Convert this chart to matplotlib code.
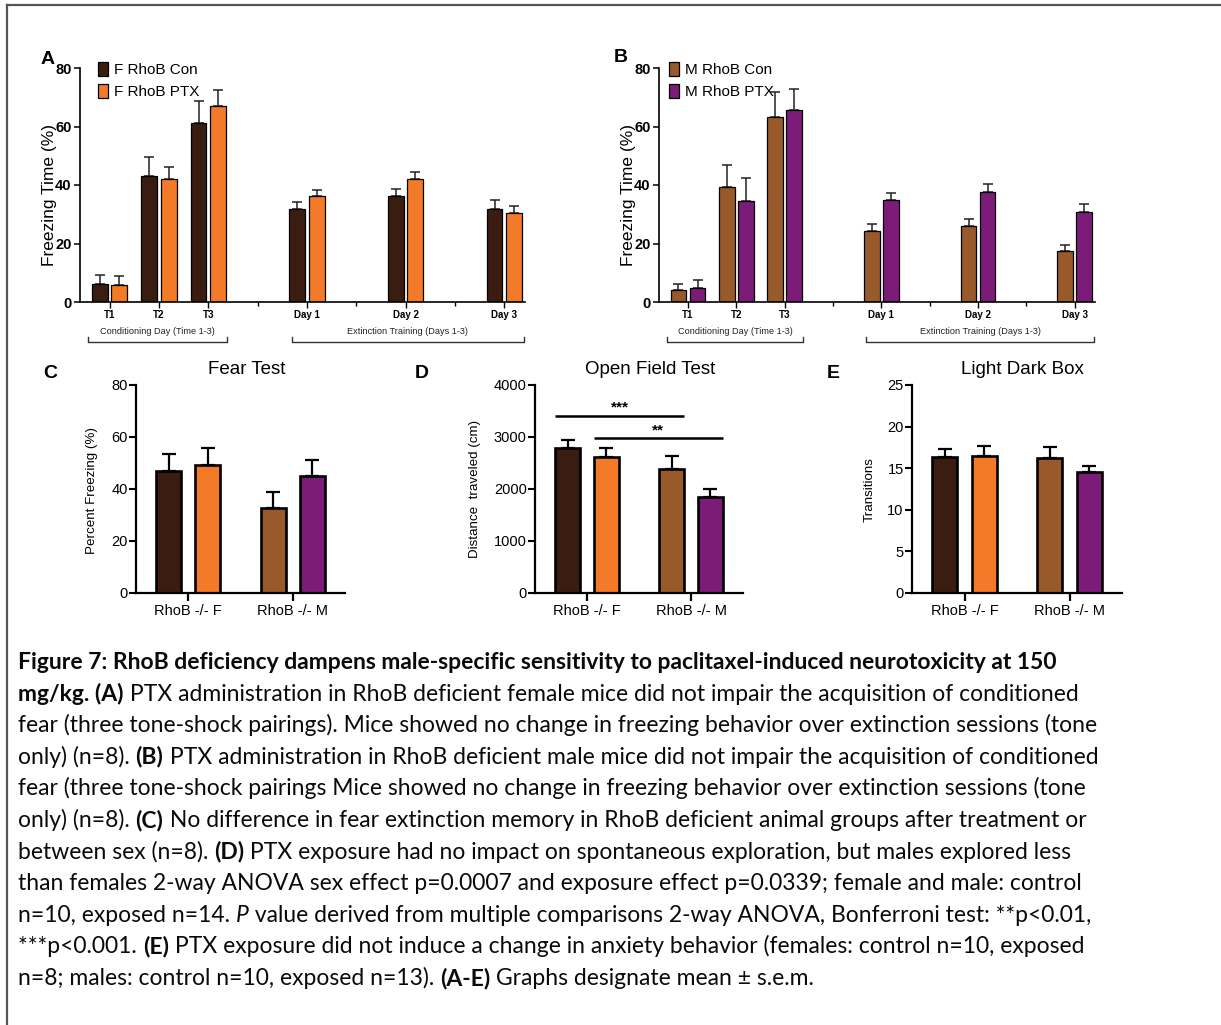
import matplotlib
matplotlib.use('Agg')
import matplotlib.pyplot as plt
import numpy as np
from matplotlib.lines import Line2D
from matplotlib.transforms import blended_transform_factory

# ---------------- data ----------------
a_categories = ['T1', 'T2', 'T3', 'Day 1', 'Day 2', 'Day 3']
f_con = [6.2, 43.2, 61.2, 31.9, 36.4, 31.9]
f_con_err = [3.1, 6.3, 7.5, 2.3, 2.3, 3.0]
f_ptx = [5.9, 42.2, 66.9, 36.4, 42.2, 30.5]
f_ptx_err = [2.9, 4.1, 5.7, 2.0, 2.2, 2.2]
m_con = [4.2, 39.4, 63.4, 24.4, 25.9, 17.5]
m_con_err = [2.0, 7.3, 8.3, 2.3, 2.5, 1.9]
m_ptx = [4.8, 34.5, 65.8, 34.9, 37.5, 30.9]
m_ptx_err = [2.8, 8.0, 7.1, 2.3, 2.8, 2.6]
a_brackets = ['Conditioning Day (Time 1-3)', 'Extinction Training (Days 1-3)']

groups = ['RhoB -/- F', 'RhoB -/- M']
fear_test = [46.9, 49.3, 32.6, 45.1]
fear_test_err = [6.6, 6.6, 6.3, 6.1]
open_field = [2797, 2624, 2387, 1843]
open_field_err = [147, 173, 256, 154]
light_dark = [16.4, 16.5, 16.2, 14.6]
light_dark_err = [0.9, 1.2, 1.3, 0.7]
# significance comparisons in open field: (bar i, bar j, height, label)
of_sig = [(0, 2, 3411, '***'), (1, 3, 2976, '**')]

# ---------------- style ----------------
C_FCON = '#3a1d10'
C_FPTX = '#f27a28'
C_MCON = '#98592b'
C_MPTX = '#7c1b78'
CHART_FONT = ['Liberation Sans', 'DejaVu Sans']
plt.rcParams['font.family'] = CHART_FONT

W, H = 1221, 1025
fig = plt.figure(figsize=(W / 100, H / 100), dpi=100)


def rect(x0, y0, x1, y1):
    return [x0 / W, 1 - y1 / H, (x1 - x0) / W, (y1 - y0) / H]


def ftext(x, y, s, **kw):
    return fig.text(x / W, 1 - y / H, s, **kw)


# positions of categories in panel A/B (layout)
a_pos = np.array([0, 1, 2, 4, 6, 8], float)
a_minor = [3, 5, 7]
bracket_spans = [(-0.43, 2.37), (3.69, 8.39)]


def timecourse(r, con, con_err, ptx, ptx_err, colors, labels, letter, letter_xy, ylabel_xy, leg_x):
    ax = fig.add_axes(r)
    off, w = 0.197, 0.32
    handles = []
    for vals, errs, c, lab, sgn in [(con, con_err, colors[0], labels[0], -1),
                                    (ptx, ptx_err, colors[1], labels[1], 1)]:
        xs = a_pos + sgn * off
        b = ax.bar(xs, vals, w, color=c, edgecolor='black', linewidth=0.9, label=lab, zorder=2)
        ax.errorbar(xs, vals, yerr=[np.zeros(len(vals)), errs], fmt='none', ecolor='#222222',
                    elinewidth=1.1, capsize=3.4, capthick=1.1, zorder=1)
        handles.append(b)
    ax.set_xlim(-0.6, 8.42)
    ax.set_ylim(0, 80)
    ax.set_yticks([0, 20, 40, 60, 80])
    for lab in ax.get_yticklabels():
        lab.set_fontweight('bold')
        lab.set_fontsize(10.5)
    ax.set_xticks(a_pos)
    ax.set_xticklabels(a_categories, fontsize=7, fontweight='bold')
    ax.set_xticks(a_minor, minor=True)
    ax.tick_params(axis='x', which='major', length=4, width=1.0, pad=2)
    ax.tick_params(axis='x', which='minor', length=3, width=1.0)
    ax.tick_params(axis='y', length=4, width=1.1, pad=2)
    for s in ['top', 'right']:
        ax.spines[s].set_visible(False)
    for s in ['left', 'bottom']:
        ax.spines[s].set_linewidth(1.2)
    ax.legend(handles=handles, loc='upper left', bbox_to_anchor=(leg_x, 1.025), frameon=False,
              fontsize=11, handlelength=0.65, handleheight=1.05, handletextpad=0.4,
              labelspacing=0.42, borderaxespad=0, borderpad=0)
    tr = blended_transform_factory(ax.transData, ax.transAxes)
    for (x0, x1), txt in zip(bracket_spans, a_brackets):
        ax.add_line(Line2D([x0, x0, x1, x1], [-0.150, -0.170, -0.170, -0.150], transform=tr,
                           color='#333333', lw=1.0, clip_on=False))
        ax.text((x0 + x1) / 2, -0.128, txt, transform=tr, ha='center', va='center',
                fontsize=6.6, color='#222222')
    ftext(*letter_xy, letter, fontsize=14, fontweight='bold', ha='center', va='center')
    ftext(*ylabel_xy, 'Freezing Time (%)', fontsize=12.5, rotation=90, ha='center', va='center')
    return ax


timecourse(rect(80, 68, 525, 302), f_con, f_con_err, f_ptx, f_ptx_err, [C_FCON, C_FPTX],
           ['F RhoB Con', 'F RhoB PTX'], 'A', (48, 59), (50, 195), 0.04)
timecourse(rect(659, 68, 1095, 302), m_con, m_con_err, m_ptx, m_ptx_err, [C_MCON, C_MPTX],
           ['M RhoB Con', 'M RhoB PTX'], 'B', (621, 58), (628, 195), 0.022)

bar_off, bar_w = 0.187, 0.238
gx = np.arange(len(groups))
bar_x = np.array([gx[0] - bar_off, gx[0] + bar_off, gx[1] - bar_off, gx[1] + bar_off])
colors4 = [C_FCON, C_FPTX, C_MCON, C_MPTX]


def grouped(r, vals, errs, ymax, yticks, ylabel, title, letter, letter_xy, ylabel_xy, title_xy,
            sig=None):
    ax = fig.add_axes(r)
    ax.bar(bar_x, vals, bar_w, color=colors4, edgecolor='black', linewidth=1.9, zorder=2)
    ax.errorbar(bar_x, vals, yerr=[np.zeros(len(vals)), errs], fmt='none', ecolor='black',
                elinewidth=1.6, capsize=5, capthick=1.6, zorder=1)
    ax.set_xlim(-0.5, 1.5)
    ax.set_ylim(0, ymax)
    ax.set_yticks(yticks)
    ax.set_xticks(gx)
    ax.set_xticklabels(groups, fontsize=10.5)
    ax.tick_params(axis='x', length=6, width=1.6, pad=2)
    ax.tick_params(axis='y', length=5, width=1.5, labelsize=10.5, pad=1)
    for s in ['top', 'right']:
        ax.spines[s].set_visible(False)
    for s in ['left', 'bottom']:
        ax.spines[s].set_linewidth(1.6)
    if sig:
        for i, j, y, lab in sig:
            x0 = bar_x[i] - bar_w / 2
            x1 = bar_x[j] + bar_w / 2
            ax.plot([x0, x1], [y, y], color='black', lw=1.8, clip_on=False, solid_capstyle='butt')
            ax.annotate(lab, ((x0 + x1) / 2, y), xytext=(0, 0.5), textcoords='offset points',
                        ha='center', va='bottom', fontsize=11, fontweight='bold')
    ftext(*title_xy, title, fontsize=13.5, ha='center', va='center')
    ftext(*letter_xy, letter, fontsize=14, fontweight='bold', ha='center', va='center')
    ftext(*ylabel_xy, ylabel, fontsize=9.6, rotation=90, ha='center', va='center')
    return ax


grouped(rect(136, 385, 345, 593), fear_test, fear_test_err, 80, [0, 20, 40, 60, 80],
        'Percent Freezing (%)', 'Fear Test', 'C', (50, 373), (92, 490), (247, 370))
grouped(rect(535, 385, 743, 593), open_field, open_field_err, 4000, [0, 1000, 2000, 3000, 4000],
        'Distance  traveled (cm)', 'Open Field Test', 'D', (422, 373), (475, 489), (650, 370),
        sig=of_sig)
grouped(rect(912, 385, 1122, 593), light_dark, light_dark_err, 25, [0, 5, 10, 15, 20, 25],
        'Transitions', 'Light Dark Box', 'E', (833, 373), (870, 490), (1022, 370))

# ---------------- caption ----------------
B, R, I = 'bold', 'normal', 'italic'
caption = [
    [("Figure 7: RhoB deficiency dampens male-specific sensitivity to paclitaxel-induced neurotoxicity at 150", B)],
    [("mg/kg. (A)", B), (" PTX administration in RhoB deficient female mice did not impair the acquisition of conditioned", R)],
    [("fear (three tone-shock pairings). Mice showed no change in freezing behavior over extinction sessions (tone", R)],
    [("only) (n=8). ", R), ("(B)", B), (" PTX administration in RhoB deficient male mice did not impair the acquisition of conditioned", R)],
    [("fear (three tone-shock pairings Mice showed no change in freezing behavior over extinction sessions (tone", R)],
    [("only) (n=8). ", R), ("(C)", B), (" No difference in fear extinction memory in RhoB deficient animal groups after treatment or", R)],
    [("between sex (n=8). ", R), ("(D)", B), (" PTX exposure had no impact on spontaneous exploration, but males explored less", R)],
    [("than females 2-way ANOVA sex effect p=0.0007 and exposure effect p=0.0339; female and male: control", R)],
    [("n=10, exposed n=14. ", R), ("P", I), (" value derived from multiple comparisons 2-way ANOVA, Bonferroni test: **p<0.01,", R)],
    [("***p<0.001. ", R), ("(E)", B), (" PTX exposure did not induce a change in anxiety behavior (females: control n=10, exposed", R)],
    [("n=8; males: control n=10, exposed n=13). ", R), ("(A-E)", B), (" Graphs designate mean \u00b1 s.e.m.", R)],
]
CAP_FONT = ['Lato', 'DejaVu Sans']
renderer = fig.canvas.get_renderer()

# fit font size so the third line spans the same width as in the reference
probe = ftext(0, 0, caption[2][0][0], fontsize=10, family=CAP_FONT)
pw = probe.get_window_extent(renderer).width
probe.remove()
cap_fs = 10 * (1099 - 18) / pw

x_start, y_first, dy = 18, 669, 31.6
for i, segs in enumerate(caption):
    x = x_start
    y = y_first + i * dy
    for txt, sty in segs:
        kw = dict(fontsize=cap_fs, family=CAP_FONT, va='baseline', ha='left', color='#0a0a0a')
        if sty == B:
            kw['fontweight'] = 'bold'
        elif sty == I:
            kw['fontstyle'] = 'italic'
        t = ftext(x, y, txt, **kw)
        bb = t.get_window_extent(renderer)
        x += bb.width

# border (top and left edges)
fig.add_artist(Line2D([7 / W, 1], [1 - 5 / H, 1 - 5 / H], transform=fig.transFigure,
                      color='#555555', lw=1.6))
fig.add_artist(Line2D([7 / W, 7 / W], [0, 1 - 5 / H], transform=fig.transFigure,
                      color='#555555', lw=1.6))

fig.savefig('out.png', dpi=100)
